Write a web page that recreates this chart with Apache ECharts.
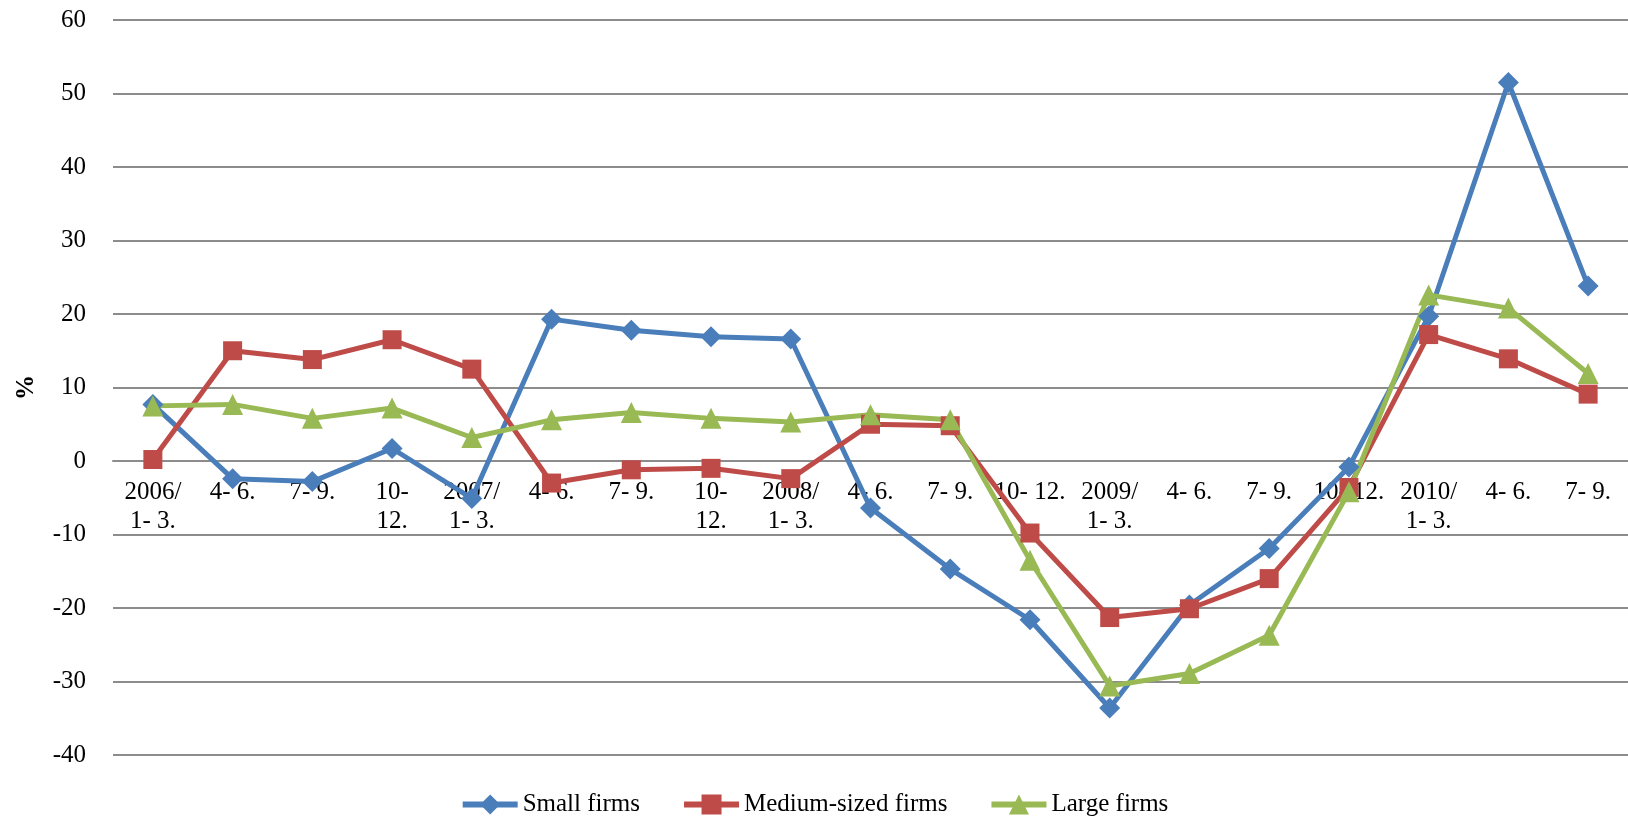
<!DOCTYPE html>
<html>
<head>
<meta charset="utf-8">
<script src="https://cdn.jsdelivr.net/npm/echarts@6/dist/echarts.min.js"></script>
<style>
  html, body { margin: 0; padding: 0; background: #fff; }
  #chart { width: 1628px; height: 825px; }
</style>
</head>
<body>
<div id="chart"></div>
<script>
// Quarter labels (year shown on the first quarter)
const categories = [
  '2006/\n1- 3.', '4- 6.', '7- 9.', '10-\n12.',
  '2007/\n1- 3.', '4- 6.', '7- 9.', '10-\n12.',
  '2008/\n1- 3.', '4- 6.', '7- 9.', '10- 12.',
  '2009/\n1- 3.', '4- 6.', '7- 9.', '10- 12.',
  '2010/\n1- 3.', '4- 6.', '7- 9.'
];

// Change, %
const smallFirms = [7.7, -2.4, -2.8, 1.7, -5.1, 19.3, 17.8, 16.9, 16.6, -6.4, -14.7, -21.6, -33.6, -19.6, -11.9, -0.8, 19.7, 51.5, 23.8];
const mediumFirms = [0.2, 15.0, 13.8, 16.5, 12.5, -3.0, -1.2, -1.0, -2.4, 5.0, 4.8, -9.8, -21.3, -20.1, -16.0, -3.6, 17.2, 13.9, 9.1];
const largeFirms = [7.5, 7.7, 5.8, 7.2, 3.2, 5.6, 6.6, 5.8, 5.3, 6.3, 5.6, -13.5, -30.6, -28.9, -23.7, -4.2, 22.6, 20.8, 11.9];

const yTicks = { min: -40, max: 60, interval: 10 };

const seriesNames = ['Small firms', 'Medium-sized firms', 'Large firms'];
const colors = ['#4A7EBB', '#BE4B48', '#98B954'];

const font = '"Liberation Serif", "Times New Roman", serif';

const W = 1628, H = 825;
const grid = { left: 113, right: 0, top: 20, bottom: 70 };
// Lift the category axis from the grid bottom up to the zero line
const plotHeight = H - grid.top - grid.bottom;
const zeroOffset = -plotHeight * (0 - yTicks.min) / (yTicks.max - yTicks.min);

const chart = echarts.init(document.getElementById('chart'), null, { renderer: 'canvas' });

function lineSeries(name, data, color, symbol, size) {
  return {
    name: name,
    type: 'line',
    data: data,
    symbol: symbol,
    symbolSize: size,
    showAllSymbol: true,
    lineStyle: { width: 5, color: color },
    itemStyle: { color: color },
    emphasis: { disabled: true },
    animation: false
  };
}

chart.setOption({
  backgroundColor: '#ffffff',
  color: colors,
  textStyle: { fontFamily: font },
  grid: grid,
  legend: {
    bottom: 3,
    left: 'center',
    itemWidth: 55,
    itemHeight: 25,
    itemGap: 41,
    lineStyle: { width: 6 },
    textStyle: { fontFamily: font, fontSize: 25, color: '#000' },
    data: seriesNames
  },
  xAxis: {
    type: 'category',
    data: categories,
    boundaryGap: true,
    position: 'bottom',
    offset: zeroOffset,
    axisLine: { show: true, onZero: false, lineStyle: { color: '#8C8C8C', width: 2 } },
    axisTick: { show: false },
    axisLabel: {
      interval: 0,
      margin: 17,
      fontFamily: font,
      fontSize: 25,
      lineHeight: 29,
      color: '#000'
    },
    splitLine: { show: false }
  },
  yAxis: {
    type: 'value',
    min: yTicks.min,
    max: yTicks.max,
    interval: yTicks.interval,
    name: '%',
    nameLocation: 'middle',
    nameRotate: 90,
    nameGap: 74,
    nameTextStyle: { fontFamily: font, fontSize: 25, fontWeight: 'bold', color: '#000' },
    axisLine: { show: false },
    axisTick: { show: false },
    axisLabel: { margin: 27, fontFamily: font, fontSize: 25, color: '#000' },
    splitLine: { show: true, lineStyle: { color: '#8C8C8C', width: 2 } }
  },
  series: [
    lineSeries(seriesNames[0], smallFirms, colors[0], 'diamond', 21),
    lineSeries(seriesNames[1], mediumFirms, colors[1], 'rect', 19),
    lineSeries(seriesNames[2], largeFirms, colors[2], 'triangle', 21)
  ]
});
</script>
</body>
</html>
